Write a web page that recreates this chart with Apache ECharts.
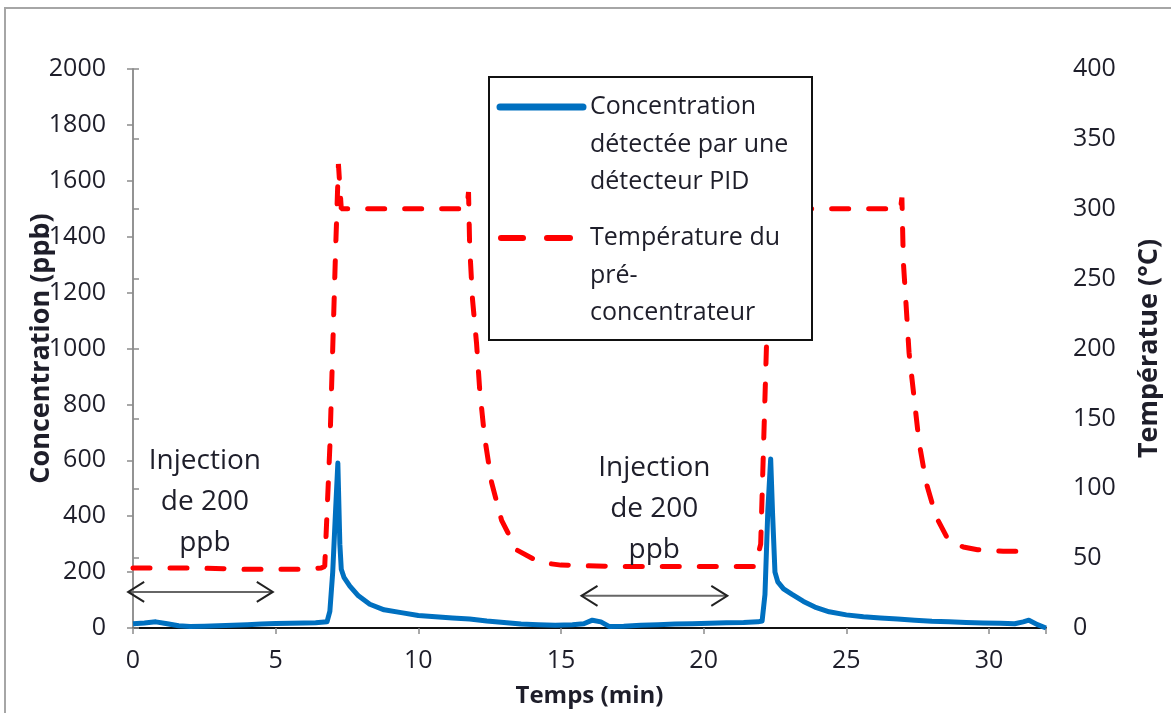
<!DOCTYPE html>
<html>
<head>
<meta charset="utf-8">
<script src="https://cdn.jsdelivr.net/npm/echarts@6/dist/echarts.min.js"></script>
<style>
  html, body { margin: 0; padding: 0; background: #fff; }
  #chart { width: 1171px; height: 713px; }
</style>
</head>
<body>
<div id="chart"></div>
<script>
// concentration detected by PID (ppb), time in min
var concTime = [0, 0.4, 0.8, 1.2, 1.6, 2.0, 2.5, 3.0, 3.5, 4.0, 4.5, 5.0, 5.5, 6.0, 6.4, 6.8, 6.9, 7.0, 7.1, 7.18, 7.25, 7.3, 7.4, 7.6, 7.9, 8.3, 8.8, 9.4, 10.0, 10.6, 11.2, 11.8, 12.4, 13.0, 13.6, 14.2, 14.8, 15.4, 15.8, 16.1, 16.4, 16.7, 17.2, 17.8, 18.4, 19.0, 19.6, 20.2, 20.8, 21.4, 21.9, 22.05, 22.15, 22.25, 22.35, 22.42, 22.5, 22.6, 22.8, 23.1, 23.5, 23.9, 24.4, 25.0, 25.6, 26.2, 26.8, 27.4, 28.0, 28.6, 29.2, 29.8, 30.4, 30.9, 31.2, 31.4, 31.7, 32];
var concValue = [15, 18, 22, 15, 8, 5, 6, 8, 10, 12, 14, 16, 17, 18, 19, 22, 60, 200, 420, 590, 300, 210, 180, 150, 115, 85, 65, 55, 45, 40, 36, 32, 25, 20, 14, 12, 10, 12, 15, 28, 22, 5, 6, 10, 12, 14, 15, 17, 19, 20, 22, 25, 120, 420, 605, 400, 200, 165, 140, 120, 95, 75, 58, 47, 40, 36, 32, 28, 24, 22, 20, 18, 17, 15, 22, 28, 12, 0];

// pre-concentrator temperature (°C)
var tempTime = [0, 2, 4, 6, 6.6, 6.72, 6.9, 7.0, 7.1, 7.2, 7.3, 8, 9, 10, 11, 11.7, 11.76, 11.8, 11.9, 12.04, 12.15, 12.32, 12.57, 12.92, 13.44, 14.25, 15, 17, 19, 21, 21.8, 22.0, 22.1, 22.2, 22.3, 22.4, 22.5, 23, 24, 25, 26, 26.9, 26.95, 27.0, 27.1, 27.2, 27.37, 27.55, 27.8, 28.14, 28.6, 29.1, 29.6, 30.5, 31.4];
var tempValue = [43, 43, 42, 42, 43, 44, 130, 200, 270, 332, 300, 300, 300, 300, 300, 300, 312, 273, 235, 204, 171, 137, 104, 77, 56, 47, 45, 44, 44, 44, 44, 60, 130, 200, 270, 330, 300, 300, 300, 300, 300, 300, 308, 262, 230, 197, 166, 133, 104, 80, 62, 58, 56, 55, 55];

var xTicks = [0, 5, 10, 15, 20, 25, 30];
var concTicks = [0, 200, 400, 600, 800, 1000, 1200, 1400, 1600, 1800, 2000];
var tempTicks = [0, 50, 100, 150, 200, 250, 300, 350, 400];

// annotations: [time, ppb] centre of text, arrow from/to
var injectText = [[2.52, 452], [18.27, 427]];
var injectArrow = [[[-0.17, 129], [4.9, 129]], [[15.72, 115], [20.83, 115]]];

var FONT = '"Open Sans", sans-serif';
var TXT = '#1e1e2a';
var AXIS = '#8c8c8c';

var concData = concTime.map(function (t, i) { return [t, concValue[i]]; });
var tempData = tempTime.map(function (t, i) { return [t, tempValue[i]]; });

var chartDom = document.getElementById('chart');
var chart = echarts.init(chartDom);

var option = {
    animation: false,
    backgroundColor: '#fff',
    grid: { left: 133, right: 124, top: 69, bottom: 85 },
    xAxis: [{
        type: 'value', min: 0, max: 32, interval: 5,
        name: 'Temps (min)', nameLocation: 'middle', nameGap: 56,
        nameTextStyle: { fontFamily: FONT, fontWeight: 'bold', fontSize: 24, color: TXT },
        axisLine: { onZero: false, lineStyle: { color: AXIS, width: 1.5 } },
        axisTick: { length: 6, lineStyle: { color: AXIS, width: 1.5 } },
        axisLabel: { fontFamily: FONT, fontSize: 25, color: TXT, margin: 20,
            formatter: function (v) { return xTicks.indexOf(v) >= 0 ? String(v) : ''; } },
        splitLine: { show: false }
    }, {
        type: 'value', min: 0, max: 32, position: 'top',
        axisLine: { lineStyle: { color: '#111', width: 2 } },
        axisTick: { show: false }, axisLabel: { show: false }, splitLine: { show: false }
    }],
    yAxis: [{
        type: 'value', min: 0, max: 2000, interval: 200,
        name: 'Concentration (ppb)', nameLocation: 'middle', nameGap: 78, nameMoveOverlap: false,
        nameTextStyle: { fontFamily: FONT, fontWeight: 'bold', fontSize: 27, color: TXT },
        axisLine: { show: true, lineStyle: { color: AXIS, width: 1.5 } },
        axisTick: { show: true, length: 6, lineStyle: { color: AXIS, width: 1.5 } },
        axisLabel: { fontFamily: FONT, fontSize: 25, color: TXT, margin: 27,
            formatter: function (v) { return concTicks.indexOf(v) >= 0 ? String(v) : ''; } },
        splitLine: { show: false }
    }, {
        type: 'value', min: 0, max: 400, interval: 50, position: 'right',
        name: 'Températue (°C)', nameLocation: 'middle', nameGap: 90, nameRotate: 90, nameMoveOverlap: false,
        nameTextStyle: { fontFamily: FONT, fontWeight: 'bold', fontSize: 27, color: TXT },
        axisLine: { show: true, lineStyle: { color: AXIS, width: 1.5 } },
        axisTick: { show: true, length: 6, lineStyle: { color: AXIS, width: 1.5 } },
        axisLabel: { fontFamily: FONT, fontSize: 25, color: TXT, margin: 27,
            formatter: function (v) { return tempTicks.indexOf(v) >= 0 ? String(v) : ''; } },
        splitLine: { show: false }
    }],
    series: [{
        name: 'Concentration détectée par une détecteur PID',
        type: 'line', xAxisIndex: 0, yAxisIndex: 0,
        showSymbol: false, symbol: 'none',
        lineStyle: { color: '#0070C0', width: 5, join: 'round' },
        data: concData, z: 3
    }, {
        name: 'Température du pré-concentrateur',
        type: 'line', xAxisIndex: 0, yAxisIndex: 1,
        showSymbol: false, symbol: 'none',
        lineStyle: { color: '#FF0000', width: 5, type: [17, 20], cap: 'round' },
        data: tempData, z: 2
    }]
};
chart.setOption(option);

// annotations and legend box, placed after the axes exist
function toPx(p) { return chart.convertToPixel({ xAxisIndex: 0, yAxisIndex: 0 }, p); }

var graphics = [];
// outer frame
graphics.push({ type: 'rect', shape: { x: 5, y: 8, width: 1200, height: 760 },
    style: { fill: 'none', stroke: '#a6a6a6', lineWidth: 2 }, z: 0, silent: true });

injectText.forEach(function (p) {
    var c = toPx(p);
    graphics.push({ type: 'text', x: c[0], y: c[1], z: 50,
        style: { text: 'Injection\nde 200\nppb', fontFamily: FONT, fontSize: 28, lineHeight: 41,
            fill: TXT, align: 'center', verticalAlign: 'middle' } });
});
injectArrow.forEach(function (a) {
    var p0 = toPx(a[0]), p1 = toPx(a[1]);
    graphics.push({ type: 'line', z: 50, shape: { x1: p0[0], y1: p0[1], x2: p1[0], y2: p1[1] },
        style: { stroke: '#666', lineWidth: 2 } });
    graphics.push({ type: 'polyline', z: 50,
        shape: { points: [[p0[0] + 16, p0[1] - 10], [p0[0], p0[1]], [p0[0] + 16, p0[1] + 10]] },
        style: { stroke: '#222', lineWidth: 2, fill: 'none' } });
    graphics.push({ type: 'polyline', z: 50,
        shape: { points: [[p1[0] - 16, p1[1] - 10], [p1[0], p1[1]], [p1[0] - 16, p1[1] + 10]] },
        style: { stroke: '#222', lineWidth: 2, fill: 'none' } });
});

// legend box
var lx = 489, ly = 77;
graphics.push({ type: 'rect', z: 60, shape: { x: lx, y: ly, width: 323, height: 263 },
    style: { fill: '#fff', stroke: '#111', lineWidth: 2 } });
graphics.push({ type: 'line', z: 61, shape: { x1: lx + 11, y1: ly + 30, x2: lx + 94, y2: ly + 30 },
    style: { stroke: '#0070C0', lineWidth: 7, lineCap: 'round' } });
graphics.push({ type: 'line', z: 61, shape: { x1: lx + 12, y1: ly + 161, x2: lx + 34, y2: ly + 161 },
    style: { stroke: '#FF0000', lineWidth: 6, lineCap: 'round' } });
graphics.push({ type: 'line', z: 61, shape: { x1: lx + 58, y1: ly + 161, x2: lx + 81, y2: ly + 161 },
    style: { stroke: '#FF0000', lineWidth: 6, lineCap: 'round' } });
graphics.push({ type: 'text', z: 61, x: lx + 101, y: ly + 30 - 18.75,
    style: { text: 'Concentration\ndétectée par une\ndétecteur PID', fontFamily: FONT, fontSize: 25,
        lineHeight: 37.5, fill: TXT, align: 'left', verticalAlign: 'top' } });
graphics.push({ type: 'text', z: 61, x: lx + 101, y: ly + 161 - 18.75,
    style: { text: 'Température du\npré-\nconcentrateur', fontFamily: FONT, fontSize: 25,
        lineHeight: 37.5, fill: TXT, align: 'left', verticalAlign: 'top' } });

chart.setOption({ graphic: graphics });
</script>
</body>
</html>
